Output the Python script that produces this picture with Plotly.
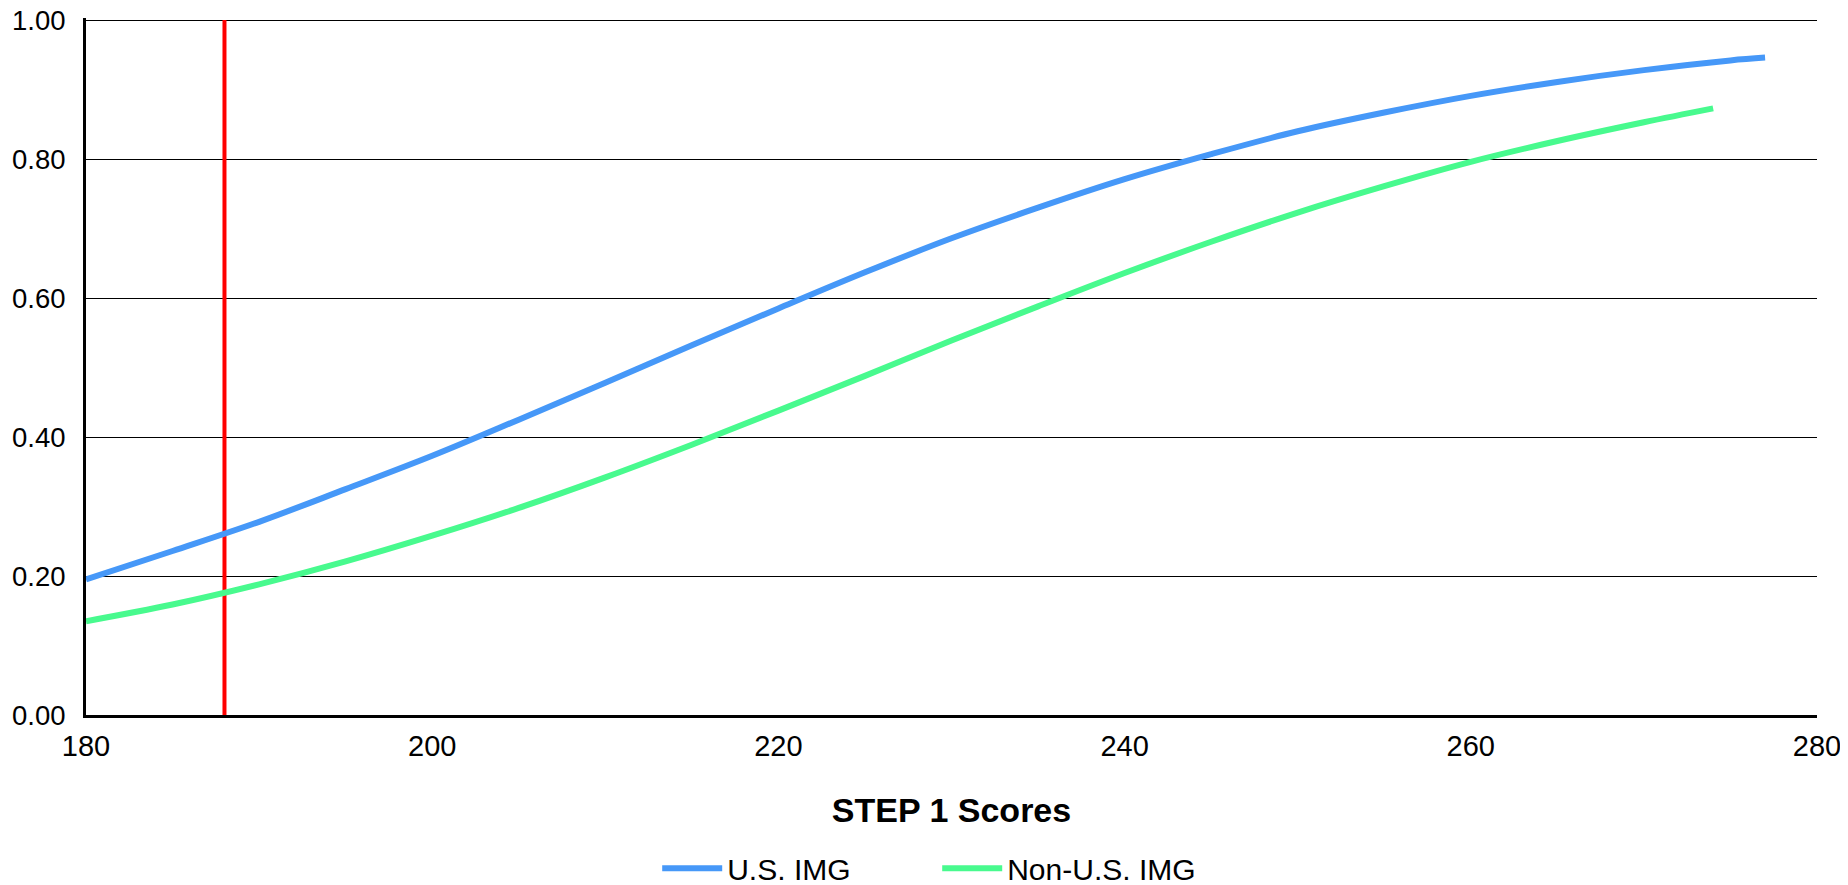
import plotly.graph_objects as go

# STEP 1 scores (x) and probability values (y)
us_scores = [180, 185, 190, 195, 200, 205, 210, 215, 220, 225, 230, 235, 240, 245, 250, 255, 260, 265, 270, 275, 277]
us_values = [0.195, 0.236, 0.278, 0.325, 0.373, 0.425, 0.478, 0.532, 0.585, 0.637, 0.686, 0.730, 0.771, 0.807, 0.840, 0.867, 0.891, 0.911, 0.928, 0.942, 0.946]

non_us_scores = [180, 185, 190, 195, 200, 205, 210, 215, 220, 225, 230, 235, 240, 245, 250, 255, 260, 265, 270, 274]
non_us_values = [0.135, 0.159, 0.188, 0.221, 0.258, 0.298, 0.342, 0.389, 0.438, 0.488, 0.539, 0.588, 0.636, 0.681, 0.723, 0.761, 0.796, 0.826, 0.853, 0.873]

cutoff_score = 188
cutoff_y = [0, 1]

x_ticks = [180, 200, 220, 240, 260, 280]
y_ticks = [0.0, 0.2, 0.4, 0.6, 0.8, 1.0]

FONT = "Arial, 'Liberation Sans', sans-serif"

fig = go.Figure()
fig.add_trace(go.Scatter(
    x=[cutoff_score, cutoff_score], y=cutoff_y, mode="lines",
    line=dict(color="#ff0000", width=4), showlegend=False, hoverinfo="skip",
))
fig.add_trace(go.Scatter(
    x=us_scores, y=us_values, mode="lines", name="U.S. IMG",
    line=dict(color="#4698f8", width=6, shape="spline"),
))
fig.add_trace(go.Scatter(
    x=non_us_scores, y=non_us_values, mode="lines", name="Non-U.S. IMG",
    line=dict(color="#48fa8e", width=6, shape="spline"),
))

# the page body has an 8px default margin, so the figure is 8px smaller
fig.update_layout(
    width=1840, height=877,
    margin=dict(l=78, r=31, t=10, b=170, autoexpand=False),
    paper_bgcolor="white", plot_bgcolor="white",
    font=dict(family=FONT, color="black", size=27),
    xaxis=dict(
        range=[180, 280], tickvals=x_ticks, ticktext=[str(v) for v in x_ticks],
        showgrid=False, zeroline=False, automargin=False,
        showline=True, linecolor="black", linewidth=3,
        ticks="", ticklabelstandoff=3, ticklabeloverflow="allow",
        title=dict(text="<b>STEP 1 Scores</b>", font=dict(size=34), standoff=38),
        tickfont=dict(size=29),
    ),
    yaxis=dict(
        range=[0, 1.003], tickvals=y_ticks, ticktext=[f"{v:.2f}" for v in y_ticks],
        showgrid=True, gridcolor="black", gridwidth=1.3, automargin=False,
        zeroline=False, showline=True, linecolor="black", linewidth=3,
        ticks="", ticklabelstandoff=12, tickfont=dict(size=27.5),
        ticklabeloverflow="allow",
    ),
    legend=dict(
        orientation="h", xref="container", yref="container",
        x=0.505, xanchor="center", y=0.019, yanchor="middle",
        font=dict(size=30), itemwidth=60, entrywidth=205, entrywidthmode="pixels",
        bgcolor="rgba(0,0,0,0)",
    ),
    showlegend=True,
)

fig.write_html("out.html")
